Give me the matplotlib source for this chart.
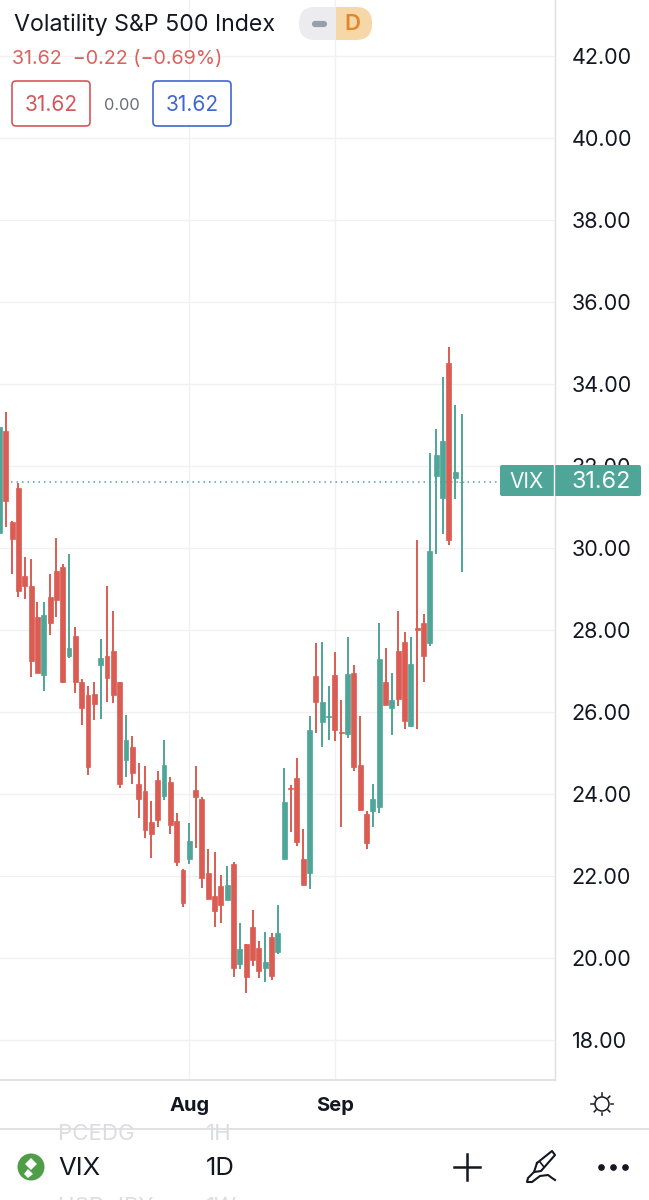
import matplotlib
matplotlib.use("Agg")
import numpy as np
import matplotlib.pyplot as plt
from matplotlib.patches import FancyBboxPatch, Rectangle, Circle, Polygon

plt.rcParams['font.family'] = ['Inter', 'DejaVu Sans']

# one row per trading day
highs = [34.83, 33.32, 30.66, 31.58, 29.79, 29.74, 28.68, 28.69, 29.37, 30.24,
         29.60, 29.85, 28.08, 26.80, 26.62, 26.74, 27.77, 29.07, 28.47, 26.73,
         25.93, 25.41, 24.75, 24.68, 23.83, 24.57, 25.32, 24.42, 23.54, 22.16,
         23.29, 24.69, 23.92, 22.66, 22.59, 22.02, 22.23, 22.35, 20.86, 20.34,
         21.17, 20.40, 20.64, 20.60, 21.28, 24.63, 24.22, 24.87, 23.14, 25.91,
         27.68, 27.70, 26.63, 27.47, 26.29, 27.82, 27.15, 25.91, 23.57, 24.24,
         28.16, 27.57, 26.94, 28.47, 27.96, 27.82, 30.20, 28.39, 32.31, 32.90,
         34.16, 34.91, 33.48, 33.27]
lows = [30.36, 30.50, 29.36, 28.80, 28.76, 26.85, 26.95, 26.50, 27.88, 28.31,
        26.71, 27.31, 26.46, 25.68, 24.45, 25.80, 25.83, 26.25, 26.21, 24.14,
        24.41, 24.24, 23.41, 22.93, 22.43, 23.20, 23.84, 23.02, 22.24, 21.23,
        22.28, 22.69, 21.70, 21.44, 20.76, 20.85, 21.41, 19.54, 19.73, 19.14,
        19.81, 19.51, 19.42, 19.45, 20.09, 22.40, 23.08, 22.74, 21.77, 21.68,
        25.49, 25.15, 25.32, 25.28, 23.20, 25.36, 24.57, 23.59, 22.66, 23.18,
        23.54, 26.16, 25.44, 26.15, 25.58, 25.63, 25.58, 26.74, 27.61, 29.85,
        30.33, 30.06, 31.19, 29.42]
opens = [30.37, 32.85, 30.64, 31.47, 29.32, 29.08, 28.31, 26.91, 28.81, 29.43,
         29.54, 27.37, 27.85, 26.74, 26.42, 26.43, 27.15, 27.37, 27.49, 26.72,
         24.83, 25.14, 24.24, 24.08, 23.31, 24.34, 23.96, 24.29, 23.34, 22.14,
         22.41, 24.09, 23.88, 22.07, 21.51, 21.75, 21.41, 22.29, 19.85, 20.34,
         20.75, 20.23, 19.75, 20.52, 20.15, 22.41, 24.15, 24.38, 22.41, 22.07,
         26.88, 25.76, 25.87, 26.89, 25.51, 25.46, 26.94, 24.71, 23.51, 23.59,
         23.68, 26.74, 26.10, 27.49, 27.70, 25.66, 28.04, 28.18, 27.69, 31.76,
         31.21, 34.52, 31.70, 31.62]
closes = [32.96, 31.15, 30.21, 28.96, 29.06, 27.25, 26.96, 28.37, 28.16, 28.73,
          26.72, 27.55, 26.74, 26.09, 24.65, 26.19, 27.31, 26.82, 26.40, 24.24,
          25.32, 24.50, 23.88, 23.12, 23.03, 23.37, 24.70, 23.24, 22.33, 21.33,
          22.85, 23.93, 21.95, 21.44, 21.15, 21.29, 21.78, 19.75, 20.21, 19.54,
          19.95, 19.69, 19.91, 19.56, 20.60, 23.81, 24.11, 22.82, 21.78, 25.57,
          26.23, 26.23, 25.89, 25.56, 25.48, 26.93, 24.65, 23.61, 22.80, 23.87,
          27.29, 26.17, 26.29, 26.31, 25.78, 27.17, 28.00, 27.37, 29.93, 32.27,
          32.62, 30.20, 31.85, 31.62]

price_ticks = [18, 20, 22, 24, 26, 28, 30, 32, 34, 36, 38, 40, 42]
month_ticks = [30, 53]
month_labels = ['Aug', 'Sep']
last_price = 31.62

RED = '#db5c52'
TEAL = '#4fa598'
GRID = '#f1f1f4'
BORDER = '#dfdfe2'

fig = plt.figure(figsize=(6.49, 12.0), dpi=100)
ax = fig.add_axes([0, 120 / 1200, 555 / 649, 1080 / 1200])
ax.set_xlim(0.095, 87.77)
ax.set_ylim(17.02, 43.366)

o = np.array(opens)
c = np.array(closes)
days = np.arange(len(o))
colors = [TEAL if c[i] >= o[i] else RED for i in days]

ax.vlines(days, lows, highs, colors=colors, linewidth=1.4, zorder=3)
ax.bar(days, np.abs(c - o), bottom=np.minimum(o, c), width=0.78, color=colors,
       edgecolor=colors, linewidth=0.5, zorder=4)
ax.axhline(last_price, color=TEAL, linewidth=1.1, linestyle=(0, (1, 2.6)), zorder=2)

ax.set_yticks(price_ticks)
ax.set_yticklabels(['%.2f' % p for p in price_ticks], fontsize=15.5, color='#131722')
ax.yaxis.tick_right()
ax.tick_params(axis='y', length=0, pad=12)
ax.set_xticks(month_ticks)
ax.set_xticklabels(month_labels, fontsize=14.5, fontweight='bold', color='#131722')
ax.tick_params(axis='x', length=0, pad=12.5)
ax.grid(True, color=GRID, linewidth=1)
ax.set_axisbelow(True)
for side in ['top', 'left']:
    ax.spines[side].set_visible(False)
ax.spines['right'].set_color(BORDER)
ax.spines['bottom'].set_color(BORDER)
ax.spines['right'].set_linewidth(1)
ax.spines['bottom'].set_linewidth(1.3)

# everything of the app around the chart, in screen pixels
ui = fig.add_axes([0, 0, 1, 1], facecolor='none')
ui.set_xlim(0, 649)
ui.set_ylim(1200, 0)
ui.axis('off')

ui.text(14, 25, 'Volatility S&P 500 Index', fontsize=16.7, color='#131722', va='center')
ui.text(12, 59, '31.62  \u22120.22 (\u22120.69%)', fontsize=14.2, color='#d9635c', va='center')


def box(x0, x1, col, label):
    ui.add_patch(FancyBboxPatch((x0 + 4, 85), x1 - x0 - 8, 37, boxstyle='round,pad=4',
                                fc='white', ec=col, lw=1.2))
    ui.text((x0 + x1) / 2, 105, label, fontsize=15, color=col, ha='center', va='center')


box(12, 90, '#d5565a', '31.62')
ui.text(122, 105, '0.00', fontsize=11.8, color='#6a6d78', ha='center', va='center')
box(153, 231, '#3f66d2', '31.62')

# chart type / interval pill
ui.add_patch(FancyBboxPatch((299, 7), 50, 33, boxstyle='round,pad=0,rounding_size=16',
                            fc='#ececee', ec='none'))
ui.add_patch(FancyBboxPatch((330, 7), 42, 33, boxstyle='round,pad=0,rounding_size=16',
                            fc='#f6d7a8', ec='none'))
ui.add_patch(Rectangle((330, 7), 6, 33, fc='#ececee', ec='none'))
ui.add_patch(Rectangle((336, 7), 16, 33, fc='#f6d7a8', ec='none'))
ui.plot([315, 324], [23.5, 23.5], color='#9a9dab', lw=4.5, solid_capstyle='round')
ui.text(352, 24.5, 'D', fontsize=16, color='#e0872c', ha='center', va='center', fontweight='semibold')

# last price label
ui.add_patch(FancyBboxPatch((502, 467), 137, 27, boxstyle='round,pad=2', fc=TEAL, ec='none', zorder=5))
ui.plot([554, 554], [465, 496], color='white', lw=1, zorder=6)
ui.text(527, 481.5, 'VIX', fontsize=15, color='white', ha='center', va='center', zorder=6)
ui.text(601.5, 481.5, '31.62', fontsize=16.8, color='white', ha='center', va='center', zorder=6)

# sun icon
ui.add_patch(Circle((602, 1104), 7, fc='none', ec='#131722', lw=1.1))
for a in np.arange(0, 360, 45):
    dx, dy = np.cos(np.radians(a)), np.sin(np.radians(a))
    ui.plot([602 + 8.5 * dx, 602 + 11 * dx], [1104 + 8.5 * dy, 1104 + 11 * dy], color='#131722', lw=1.1)

# bottom toolbar
ui.plot([0, 649], [1128.5, 1128.5], color=BORDER, lw=1.3)
ui.text(58, 1134, 'PCEDG', fontsize=16, color='#dcdde0', va='center',
        clip_on=True, clip_box=matplotlib.transforms.Bbox([[0, 0], [649, 71]]))
ui.text(206, 1134, '1H', fontsize=16, color='#dcdde0', va='center',
        clip_on=True, clip_box=matplotlib.transforms.Bbox([[0, 0], [649, 71]]))
ui.text(58, 1207, 'USD JPY', fontsize=16, color='#dcdde0', va='center')
ui.text(206, 1207, '1W', fontsize=16, color='#dcdde0', va='center')

ui.add_patch(Circle((31, 1167), 13.5, fc='#4f9e47', ec='none'))
ui.add_patch(Polygon([[31, 1158], [37, 1164], [31, 1170], [25, 1164]], fc='white', ec='none'))
ui.add_patch(Polygon([[28, 1169], [33, 1174], [28, 1178], [24, 1174]], fc='white', ec='none'))
ui.text(58, 1168.5, 'VIX', fontsize=18.5, color='#131722', va='center')
ui.text(206, 1168.5, '1D', fontsize=18.5, color='#131722', ha='left', va='center')

ui.plot([454, 480], [1167, 1167], color='#131722', lw=1.8)
ui.plot([467, 467], [1154, 1180], color='#131722', lw=1.8)

# pen icon
ui.plot([537, 552, 555, 541, 534, 537], [1163, 1151, 1155, 1171, 1172, 1163], color='#131722', lw=1.5)
ui.plot([540, 544], [1162, 1167], color='#131722', lw=1.2)
ui.plot([534, 528, 527, 532, 540, 548, 552, 555], [1172, 1178, 1182, 1182, 1176, 1175, 1178, 1180],
        color='#131722', lw=1.5)

ui.plot([601, 613, 625], [1167, 1167, 1167], 'o', color='#131722', ms=3.8)

fig.savefig('out.png', dpi=100, facecolor='white')
